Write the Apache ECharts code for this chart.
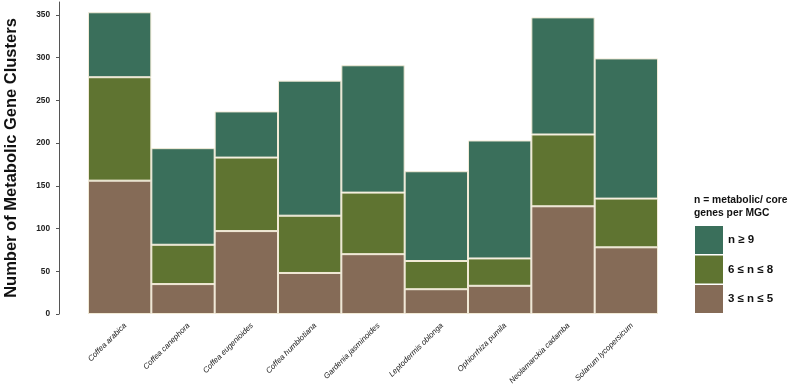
<!DOCTYPE html>
<html><head><meta charset="utf-8">
<script src="https://cdn.jsdelivr.net/npm/echarts@6/dist/echarts.min.js"></script>
<style>html,body{margin:0;padding:0;background:#fff}#c{width:790px;height:388px}</style>
</head><body><div id="c"></div>
<script>
const categories = ['Coffea arabica','Coffea canephora','Coffea eugenioides','Coffea humblotiana','Gardenia jasminoides','Leptodermis oblonga','Ophiorrhiza pumila','Neolamarckia cadamba','Solanum lycopersicum'];
const small = [156, 35, 97, 48, 70, 29, 33, 126, 78];   // 3 ≤ n ≤ 5
const mid   = [121, 46, 86, 67, 72, 33, 32, 84, 57];    // 6 ≤ n ≤ 8
const large = [76, 113, 54, 158, 149, 105, 138, 137, 164]; // n ≥ 9
const yTicks = [0, 50, 100, 150, 200, 250, 300, 350];
const seriesNames = ['3 ≤ n ≤ 5', '6 ≤ n ≤ 8', 'n ≥ 9'];

const colors = ['#856b57', '#5f7431', '#3a6f5b'];
const font = 'Liberation Sans, Arial, sans-serif';
const chart = echarts.init(document.getElementById('c'), null, {renderer: 'canvas'});
const mk = (name, data, color) => ({
  name, type: 'bar', stack: 'a', data, barCategoryGap: 0, barGap: 0,
  itemStyle: {color, borderColor: '#f1ead6', borderWidth: 1},
  emphasis: {disabled: true}
});
chart.setOption({
  animation: false,
  textStyle: {fontFamily: font},
  grid: {left: 88, right: 132, top: 2, bottom: 74, outerBoundsMode: 'none', containLabel: false},
  title: {
    text: 'n = metabolic/ core\ngenes per MGC',
    left: 689, top: 189,
    textStyle: {fontFamily: font, fontSize: 10.3, fontWeight: 'bold', color: '#111', lineHeight: 12.5}
  },
  legend: {
    orient: 'vertical', left: 690, top: 221, icon: 'rect',
    itemWidth: 28, itemHeight: 28, itemGap: 1.5,
    data: [seriesNames[2], seriesNames[1], seriesNames[0]],
    itemStyle: {borderWidth: 0},
    textStyle: {fontFamily: font, fontSize: 11.5, fontWeight: 'bold', color: '#111'}
  },
  xAxis: {
    type: 'category', data: categories,
    axisLine: {show: false}, axisTick: {show: false},
    axisLabel: {rotate: 45, interval: 0, fontSize: 7.8, fontStyle: 'italic', color: '#1a1a1a', margin: 16, padding: [0, -8, 0, 0], fontFamily: font}
  },
  yAxis: {
    type: 'value', min: 0, max: 365, interval: 50, offset: 29,
    name: 'Number of Metabolic Gene Clusters', nameLocation: 'middle', nameGap: 39,
    nameTextStyle: {fontFamily: font, fontSize: 16.5, fontWeight: 'bold', color: '#111'},
    splitLine: {show: false},
    axisLine: {show: true, lineStyle: {color: '#555', width: 1}},
    axisTick: {show: true, length: 3, lineStyle: {color: '#555'}, customValues: yTicks},
    axisLabel: {fontSize: 8.3, fontWeight: 'bold', color: '#222', margin: 9, customValues: yTicks, fontFamily: font}
  },
  series: [mk(seriesNames[0], small, colors[0]), mk(seriesNames[1], mid, colors[1]), mk(seriesNames[2], large, colors[2])]
});
</script></body></html>
